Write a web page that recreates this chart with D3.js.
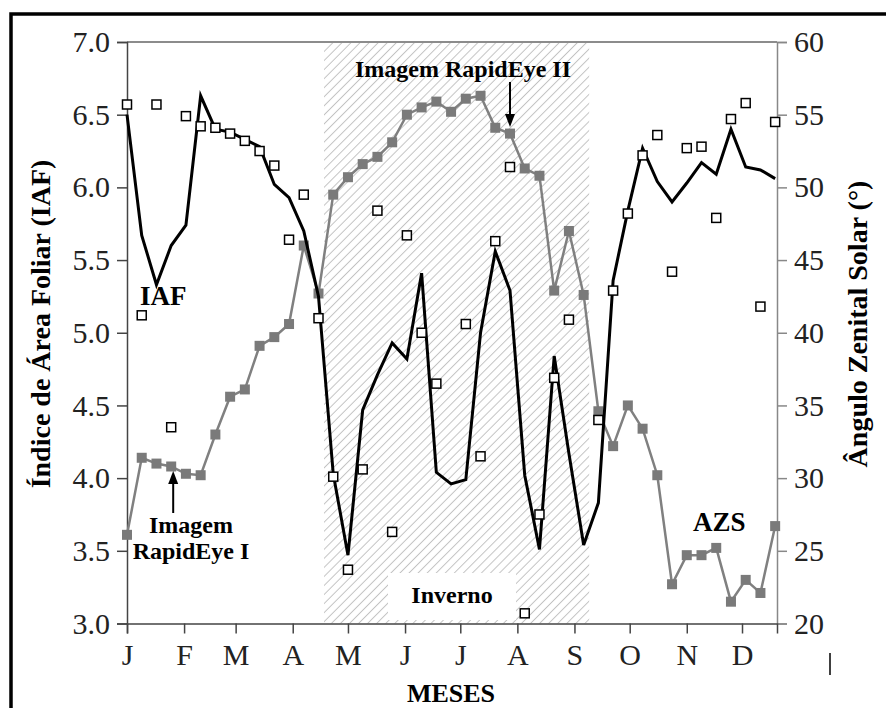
<!DOCTYPE html>
<html>
<head>
<meta charset="utf-8">
<script src="https://cdn.jsdelivr.net/npm/d3@7"></script>
<style>
    body { margin: 0; background: #fff; }
    svg text { font-family: "Liberation Serif", "Times New Roman", serif; }
</style>
</head>
<body>
<div id="chart"></div>
<script>
// day of year of each 8-day composite
var doy = [1, 9, 17, 25, 33, 41, 49, 57, 65, 73, 81, 89, 97, 105, 113, 121, 129, 137, 145, 153, 161, 169, 177,
    185, 193, 201, 209, 217, 225, 233, 241, 249, 257, 265, 273, 281, 289, 297, 305, 313, 321, 329, 337, 345, 353];

// IAF, filtered series (black line)
var iaf = [6.50, 5.67, 5.33, 5.60, 5.74, 6.63, 6.40, 6.38, 6.33, 6.28, 6.02, 5.93, 5.70, 5.25, 4.03, 3.47, 4.47, 4.71, 4.93,
    4.82, 5.41, 4.04, 3.96, 3.99, 5.00, 5.56, 5.29, 4.02, 3.51, 4.84, 4.17, 3.54, 3.83, 5.36, 5.84, 6.27, 6.04, 5.90,
    6.03, 6.17, 6.09, 6.40, 6.14, 6.12, 6.06];

// IAF, original values (open squares)
var iafRaw = [6.57, 5.12, 6.57, 4.35, 6.49, 6.42, 6.41, 6.37, 6.32, 6.25, 6.15, 5.64, 5.95, 5.10, 4.01, 3.37, 4.06, 5.84, 3.63,
    5.67, 5.00, 4.65, null, 5.06, 4.15, 5.63, 6.14, 3.07, 3.75, 4.69, 5.09, null, 4.40, 5.29, 5.82, 6.22, 6.36, 5.42,
    6.27, 6.28, 5.79, 6.47, 6.58, 5.18, 6.45];

// angulo zenital solar (grey line)
var azs = [26.1, 31.4, 31.0, 30.8, 30.3, 30.2, 33.0, 35.6, 36.1, 39.1, 39.7, 40.6, 46.0, 42.7, 49.5, 50.7, 51.6, 52.1, 53.1,
    55.0, 55.5, 55.9, 55.2, 56.1, 56.3, 54.1, 53.7, 51.3, 50.8, 42.9, 47.0, 42.6, 34.6, 32.2, 35.0, 33.4, 30.2, 22.7,
    24.7, 24.7, 25.2, 21.5, 23.0, 22.1, 26.7];

var monthLabels = ['J', 'F', 'M', 'A', 'M', 'J', 'J', 'A', 'S', 'O', 'N', 'D'];
var monthStart = [1, 32, 60, 91, 121, 152, 182, 213, 244, 274, 305, 335];

var winter = [108, 252]; // hatched period (doy)
var imageI = 25, imageII = 209;

function draw() {
    var width = 886,
        height = 708,
        pLeft = 127,
        pRight = 777,
        pTop = 42,
        pBottom = 623.5;

    var x = d3.scaleLinear().domain([1, 354]).range([pLeft, pRight]);
    var yL = d3.scaleLinear().domain([3, 7]).range([pBottom, pTop]);
    var yR = d3.scaleLinear().domain([20, 60]).range([pBottom, pTop]);

    var svg = d3.select('#chart').append('svg')
        .attr('width', width)
        .attr('height', height);

    var defs = svg.append('defs');
    defs.append('pattern')
        .attr('id', 'hatch')
        .attr('patternUnits', 'userSpaceOnUse')
        .attr('width', 6.4)
        .attr('height', 6.4)
        .attr('patternTransform', 'rotate(45)')
        .append('line')
        .attr('x1', 3.2).attr('y1', 0)
        .attr('x2', 3.2).attr('y2', 6.4)
        .attr('stroke', '#c2c2c2')
        .attr('stroke-width', 1);

    // winter
    svg.append('rect')
        .attr('x', x(winter[0]))
        .attr('y', pTop + 1)
        .attr('width', x(winter[1]) - x(winter[0]))
        .attr('height', pBottom - pTop - 1)
        .attr('fill', 'url(#hatch)');

    svg.append('rect')
        .attr('x', 388).attr('y', 573)
        .attr('width', 128).attr('height', 47)
        .attr('fill', '#fff');

    svg.append('text')
        .attr('x', 452).attr('y', 603)
        .attr('text-anchor', 'middle')
        .attr('font-size', 24).attr('font-weight', 'bold')
        .text('Inverno');

    // top border of plot
    svg.append('line')
        .attr('x1', pLeft).attr('x2', pRight)
        .attr('y1', pTop).attr('y2', pTop)
        .attr('stroke', '#666').attr('stroke-width', 1.5);

    // left axis
    var gL = svg.append('g').attr('transform', 'translate(' + pLeft + ',0)');
    gL.call(d3.axisLeft(yL).tickValues(d3.range(3, 7.01, 0.25)).tickSize(5).tickFormat(''));
    gL.call(d3.axisLeft(yL).tickValues(d3.range(3, 7.01, 0.5)).tickSize(10).tickPadding(7).tickFormat(d3.format('.1f')));
    gL.selectAll('path, line').attr('stroke', '#444').attr('stroke-width', 1.5);
    gL.selectAll('text').attr('font-size', 30).attr('fill', '#222');

    // right axis
    var gR = svg.append('g').attr('transform', 'translate(' + pRight + ',0)');
    gR.call(d3.axisRight(yR).tickValues(d3.range(20, 60.1, 2.5)).tickSize(5).tickFormat(''));
    gR.call(d3.axisRight(yR).tickValues(d3.range(20, 60.1, 5)).tickSize(10).tickPadding(7));
    gR.selectAll('path, line').attr('stroke', '#888').attr('stroke-width', 1.5);
    gR.selectAll('text').attr('font-size', 30).attr('fill', '#222');

    // bottom axis
    var gB = svg.append('g').attr('transform', 'translate(0,' + pBottom + ')');
    gB.call(d3.axisBottom(x).tickValues(monthStart).tickSize(10)
        .tickFormat(function(d, i) { return monthLabels[i]; }));
    gB.selectAll('path, line').attr('stroke', '#444').attr('stroke-width', 1.5);
    gB.selectAll('text').attr('font-size', 30).attr('fill', '#222').attr('y', 41).attr('dy', 0);

    // AZS
    var azsLine = d3.line()
        .x(function(d, i) { return x(doy[i]); })
        .y(function(d) { return yR(d); });

    svg.append('path')
        .datum(azs)
        .attr('d', azsLine)
        .attr('fill', 'none')
        .attr('stroke', '#808080')
        .attr('stroke-width', 2.5);

    svg.append('g').selectAll('rect')
        .data(azs)
        .enter().append('rect')
        .attr('x', function(d, i) { return x(doy[i]) - 5; })
        .attr('y', function(d) { return yR(d) - 5; })
        .attr('width', 10).attr('height', 10)
        .attr('fill', '#7a7a7a');

    // IAF
    var iafLine = d3.line()
        .x(function(d, i) { return x(doy[i]); })
        .y(function(d) { return yL(d); });

    svg.append('path')
        .datum(iaf)
        .attr('d', iafLine)
        .attr('fill', 'none')
        .attr('stroke', '#000')
        .attr('stroke-width', 3);

    svg.append('g').selectAll('rect')
        .data(iafRaw.map(function(d, i) { return { doy: doy[i], v: d }; }).filter(function(d) { return d.v != null; }))
        .enter().append('rect')
        .attr('x', function(d) { return x(d.doy) - 4.5; })
        .attr('y', function(d) { return yL(d.v) - 4.5; })
        .attr('width', 9).attr('height', 9)
        .attr('fill', '#fff')
        .attr('stroke', '#000')
        .attr('stroke-width', 1.5);

    // labels
    svg.append('text').attr('x', 140).attr('y', 305)
        .attr('font-size', 27).attr('font-weight', 'bold').text('IAF');
    svg.append('text').attr('x', 693).attr('y', 531)
        .attr('font-size', 27).attr('font-weight', 'bold').text('AZS');

    svg.append('text').attr('x', 463).attr('y', 77)
        .attr('text-anchor', 'middle')
        .attr('font-size', 24).attr('font-weight', 'bold').text('Imagem RapidEye II');
    svg.append('text').attr('x', 191).attr('y', 533)
        .attr('text-anchor', 'middle')
        .attr('font-size', 24).attr('font-weight', 'bold').text('Imagem');
    svg.append('text').attr('x', 191).attr('y', 559)
        .attr('text-anchor', 'middle')
        .attr('font-size', 24).attr('font-weight', 'bold').text('RapidEye I');

    // arrows
    function arrow(xp, y1, y2) {
        var dir = y2 > y1 ? 1 : -1;
        svg.append('line')
            .attr('x1', xp).attr('x2', xp)
            .attr('y1', y1).attr('y2', y2 - dir * 10)
            .attr('stroke', '#000').attr('stroke-width', 2);
        svg.append('path')
            .attr('d', 'M' + (xp - 5) + ',' + (y2 - dir * 13) + 'L' + (xp + 5) + ',' + (y2 - dir * 13) + 'L' + xp + ',' + y2 + 'Z')
            .attr('fill', '#000');
    }
    arrow(x(imageI) + 2, 513, 471);
    arrow(x(imageII), 82, 127);

    // axis titles
    svg.append('text')
        .attr('transform', 'translate(50,324) rotate(-90)')
        .attr('text-anchor', 'middle')
        .attr('font-size', 28).attr('font-weight', 'bold')
        .text('Índice de Área Foliar (IAF)');

    svg.append('text')
        .attr('transform', 'translate(867,324) rotate(-90)')
        .attr('text-anchor', 'middle')
        .attr('font-size', 28).attr('font-weight', 'bold')
        .text('Ângulo Zenital Solar (°)');

    svg.append('text')
        .attr('x', 451).attr('y', 702)
        .attr('text-anchor', 'middle')
        .attr('font-size', 26).attr('font-weight', 'bold')
        .text('MESES');

    // stray mark and frame
    svg.append('line')
        .attr('x1', 830).attr('x2', 830)
        .attr('y1', 653).attr('y2', 675)
        .attr('stroke', '#000').attr('stroke-width', 1.5);

    svg.append('rect')
        .attr('x', 11).attr('y', 14)
        .attr('width', 900).attr('height', 720)
        .attr('fill', 'none')
        .attr('stroke', '#000')
        .attr('stroke-width', 3.5);
}
draw();
</script>
</body>
</html>
